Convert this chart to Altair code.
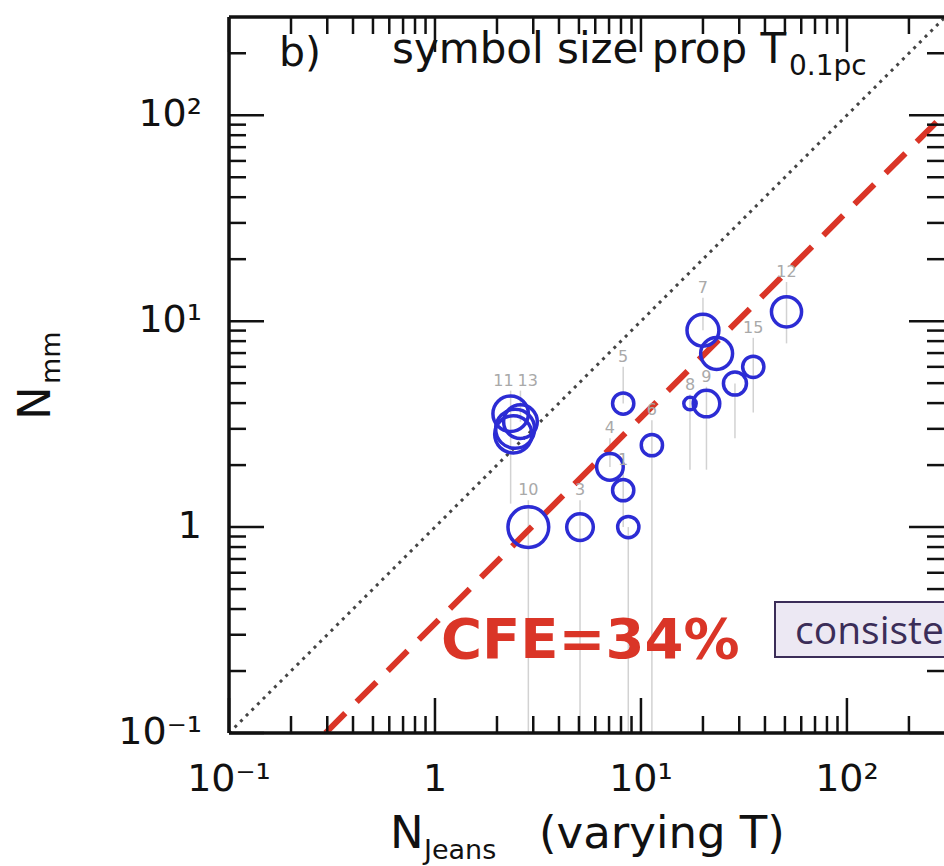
import altair as alt
import pandas as pd

# Cores: Jeans number (varying T), number of mm fragments, temperature at 0.1 pc
n_jeans = [2.33, 2.60, 2.45, 2.40, 2.84, 5.06, 8.68, 8.20, 7.07, 8.20, 11.3, 17.3, 20.8, 20.0, 23.3, 28.6, 35.1, 50.9]
n_mm = [3.55, 3.25, 3.00, 2.82, 1.00, 1.00, 1.00, 1.51, 1.96, 3.98, 2.50, 3.98, 3.98, 9.04, 6.97, 4.98, 6.00, 11.1]
t_01pc = [20, 19, 22, 21, 23, 15, 12, 12, 15, 12, 12, 7, 15, 18, 18, 13, 12, 17]
n_mm_lo = [1.3, 3.25, 3.0, 2.82, 0.1, 0.1, 0.1, 1.0, 1.96, 3.98, 0.1, 1.9, 1.9, 9.04, 6.97, 2.7, 3.6, 7.8]
n_mm_hi = [4.6, 4.6, 3.0, 2.82, 1.35, 1.35, 1.0, 1.9, 2.7, 6.0, 3.3, 4.4, 4.8, 13.0, 6.97, 4.98, 8.3, 15.5]
core_id = ["11", "13", "", "", "10", "3", "", "1", "4", "5", "6", "8", "9", "7", "", "", "15", "12"]

# Core formation efficiency line and 1:1 line
cfe = 0.34
line_x = [0.1 / cfe, 296]
one_to_one = [0.1, 296]

# Axis ticks
major_ticks = [0.1, 1, 10, 100]
major_labels = ["10\u207b\u00b9", "1", "10\u00b9", "10\u00b2"]
minor_mult = [2, 3, 4, 5, 6, 7, 8, 9]
decades = [0.1, 1, 10, 100]
x_max, y_max = 296, 300

W, H = 715, 716
FONT = "DejaVu Sans"
BLUE = "#2c2cd4"
RED = "#da3527"
INK = "#111111"

xs = alt.Scale(type="log", domain=[0.1, x_max], nice=False)
ys = alt.Scale(type="log", domain=[0.1, y_max], nice=False)

cores = pd.DataFrame({"nj": n_jeans, "nmm": n_mm, "T": t_01pc,
                      "lo": n_mm_lo, "hi": n_mm_hi, "id": core_id})
one = pd.DataFrame({"k": [0]})

minor = [m * d for d in decades for m in minor_mult]
minor_x = pd.DataFrame({"v": [v for v in minor if v < x_max]})
minor_y = pd.DataFrame({"v": [v for v in minor if v < y_max]})
major = pd.DataFrame({"v": major_ticks, "lab": major_labels})

# faint vertical ranges behind each core
ranges = alt.Chart(cores).mark_rule(color="#d2d2d2", strokeWidth=1.5, clip=True).encode(
    x=alt.X("nj:Q", scale=xs, axis=None),
    y=alt.Y("lo:Q", scale=ys, axis=None),
    y2="hi:Q",
)

# core numbers at the top of each range; the two overlapping cluster ids sit side by side
def id_layer(df, align, dx):
    return alt.Chart(df).mark_text(
        font=FONT, fontSize=16, color="#a9a9a9", baseline="bottom", dy=-2, align=align, dx=dx
    ).encode(x=alt.X("nj:Q", scale=xs), y=alt.Y("hi:Q", scale=ys), text="id:N")

labelled = cores[cores["id"] != ""]
ids = [
    id_layer(labelled[~labelled["id"].isin(["11", "13"])], "center", 0),
    id_layer(labelled[labelled["id"] == "11"], "right", 3),
    id_layer(labelled[labelled["id"] == "13"], "left", -3),
]

diag = alt.Chart(pd.DataFrame({"x": one_to_one, "y": one_to_one})).mark_line(
    color="#444444", strokeWidth=3, strokeDash=[3, 5], clip=True
).encode(x=alt.X("x:Q", scale=xs), y=alt.Y("y:Q", scale=ys))

cfe_df = pd.DataFrame({"x": line_x, "y": [cfe * v for v in line_x]})
cfe_line = alt.Chart(cfe_df).mark_line(
    color=RED, strokeWidth=6, strokeDash=[28, 16], clip=True
).encode(x=alt.X("x:Q", scale=xs), y=alt.Y("y:Q", scale=ys))

circles = alt.Chart(cores).mark_point(
    shape="circle", filled=False, strokeWidth=3.5, color=BLUE, opacity=1
).encode(
    x=alt.X("nj:Q", scale=xs),
    y=alt.Y("nmm:Q", scale=ys),
    size=alt.Size("T:Q", scale=alt.Scale(type="pow", exponent=2, domain=[0, 25], range=[0, 1963]), legend=None),
)

# Frame (left, top, bottom) and inward ticks on all four sides
frame = [
    alt.Chart(one).mark_rule(color=INK, strokeWidth=3.5).encode(x=alt.value(0), y=alt.value(0), y2=alt.value(H)),
    alt.Chart(one).mark_rule(color=INK, strokeWidth=3.5).encode(y=alt.value(0), x=alt.value(0), x2=alt.value(W)),
    alt.Chart(one).mark_rule(color=INK, strokeWidth=3.5).encode(y=alt.value(H), x=alt.value(0), x2=alt.value(W)),
]

def xticks(df, length):
    bottom = alt.Chart(df).mark_rule(color=INK, strokeWidth=2.5).encode(
        x=alt.X("v:Q", scale=xs), y=alt.value(H - length), y2=alt.value(H))
    top = alt.Chart(df).mark_rule(color=INK, strokeWidth=2.5).encode(
        x=alt.X("v:Q", scale=xs), y=alt.value(0), y2=alt.value(length))
    return [bottom, top]

def yticks(df, length):
    left = alt.Chart(df).mark_rule(color=INK, strokeWidth=2.5).encode(
        y=alt.Y("v:Q", scale=ys), x=alt.value(0), x2=alt.value(length))
    right = alt.Chart(df).mark_rule(color=INK, strokeWidth=2.5).encode(
        y=alt.Y("v:Q", scale=ys), x=alt.value(W - length), x2=alt.value(W))
    return [left, right]

ticks = xticks(minor_x, 17) + xticks(major, 35) + yticks(minor_y, 17) + yticks(major, 35)

xlab = alt.Chart(major).mark_text(font=FONT, fontSize=38, color=INK, align="center", baseline="alphabetic").encode(
    x=alt.X("v:Q", scale=xs), y=alt.value(H + 58), text="lab:N")
ylab = alt.Chart(major).mark_text(font=FONT, fontSize=38, color=INK, align="right", baseline="middle").encode(
    y=alt.Y("v:Q", scale=ys), x=alt.value(-27), text="lab:N")

def txt(s, x, y, size, **kw):
    return alt.Chart(one).mark_text(text=s, font=FONT, fontSize=size, color=kw.pop("color", INK),
                                    align=kw.pop("align", "left"), baseline="alphabetic", **kw).encode(
        x=alt.value(x), y=alt.value(y))

titles = [
    txt("N", 161, 831, 45),
    txt("Jeans", 195, 842, 27),
    txt("(varying T)", 310, 831, 45),
    txt("N", -179, 403, 45, angle=270),
    txt("mm", -169, 367, 27, angle=270),
    txt("b)", 50, 49, 41),
    txt("symbol size prop T", 163, 46, 42),
    txt("0.1pc", 560, 58, 28),
    txt(f"CFE={round(cfe * 100)}%", 212, 641, 56, color=RED, fontWeight="bold"),
]

note_box = alt.Chart(one).mark_rect(fill="#ece8f3", stroke="#3b2d58", strokeWidth=2).encode(
    x=alt.value(546), x2=alt.value(W + 120), y=alt.value(585), y2=alt.value(640))
note_txt = alt.Chart(one).mark_text(text="consistent with", font="Open Sans", fontSize=39, color="#3b2d58",
                                    align="left", baseline="alphabetic").encode(x=alt.value(566), y=alt.value(627))

chart = alt.layer(
    ranges, diag, cfe_line, circles, *ids, *frame, *ticks, xlab, ylab, *titles, note_box, note_txt
).properties(
    width=W, height=H,
    padding={"left": 229, "top": 17, "right": 0, "bottom": 133},
    autosize=alt.AutoSizeParams(type="none"),
    background="white",
).configure_view(stroke=None)

chart.save("out.html", embed_options={"renderer": "svg", "actions": False})
